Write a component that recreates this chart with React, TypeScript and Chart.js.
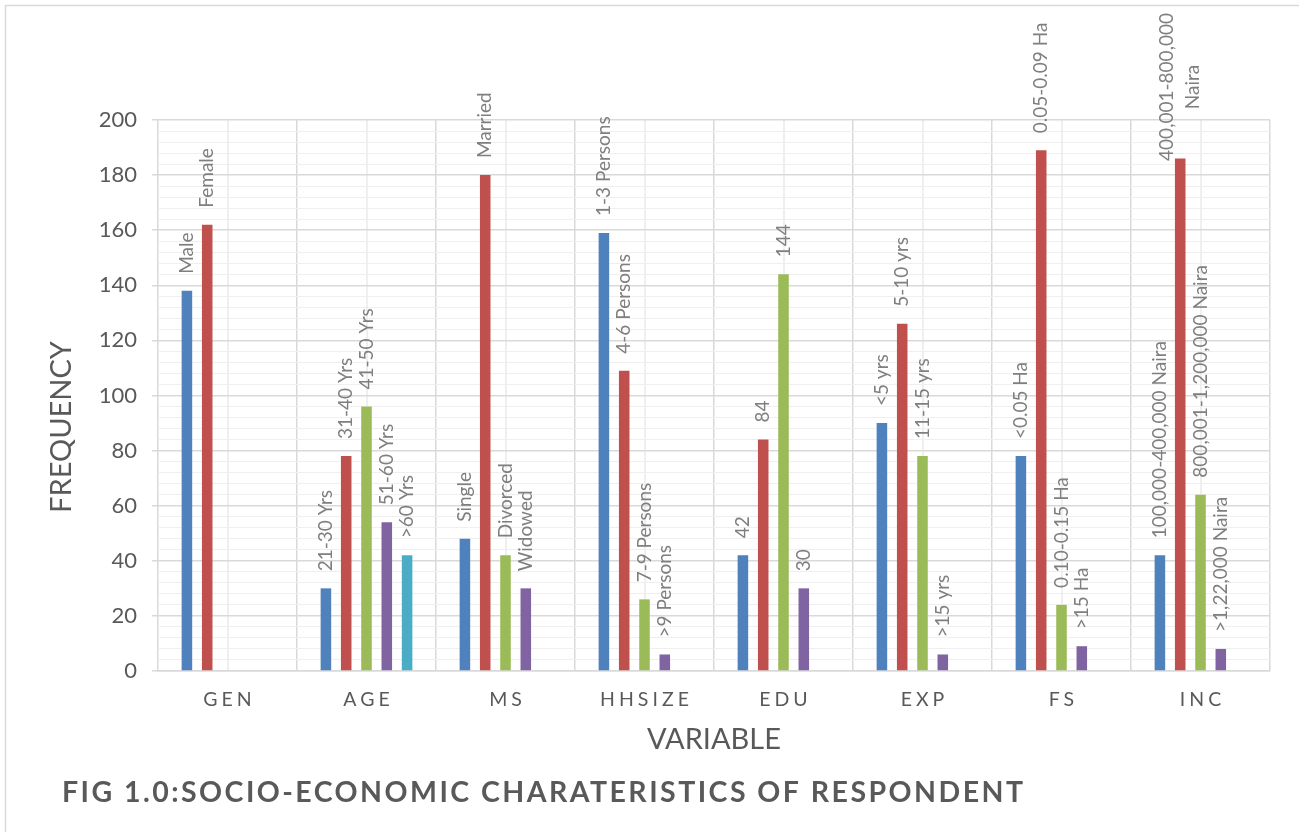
import React, { useEffect, useRef } from "react";
import { Chart, registerables } from "chart.js";

Chart.register(...registerables);

// ---------- data ----------
const categories = ["GEN", "AGE", "MS", "HHSIZE", "EDU", "EXP", "FS", "INC"];

const series1Values = [138, 30, 48, 159, 42, 90, 78, 42];
const series2Values = [162, 78, 180, 109, 84, 126, 189, 186];
const series3Values = [null, 96, 42, 26, 144, 78, 24, 64];
const series4Values = [null, 54, 30, 6, 30, 6, 9, 8];
const series5Values = [null, 42, null, null, null, null, null, null];

const series1Labels = ["Male", "21-30 Yrs", "Single", "1-3 Persons", "42", "<5 yrs", "<0.05 Ha", "100,000-400,000 Naira"];
const series2Labels = ["Female", "31-40 Yrs", "Married", "4-6 Persons", "84", "5-10 yrs", "0.05-0.09 Ha", ["400,001-800,000", "Naira"]];
const series3Labels = [null, "41-50 Yrs", "Divorced", "7-9 Persons", "144", "11-15 yrs", "0.10-0.15 Ha", "800,001-1,200,000 Naira"];
const series4Labels = [null, "51-60 Yrs", "Widowed", ">9 Persons", "30", ">15 yrs", ">15 Ha", ">1,22,000 Naira"];
const series5Labels = [null, ">60 Yrs", null, null, null, null, null, null];

const seriesColors = ["#4F81BD", "#C0504D", "#9BBB59", "#8064A2", "#4BACC6"];

const yMin = 0;
const yMax = 200;
const yMajorStep = 20;
const yMinorStep = 4;

const xAxisTitle = "VARIABLE";
const yAxisTitle = "FREQUENCY";
const figureTitle = "FIG 1.0:SOCIO-ECONOMIC CHARATERISTICS OF RESPONDENT";

const allValues = [series1Values, series2Values, series3Values, series4Values, series5Values];
const allLabels: any[][] = [series1Labels, series2Labels, series3Labels, series4Labels, series5Labels];

const FONT = "Lato, 'Open Sans', 'DejaVu Sans', sans-serif";

const decorPlugin = {
  id: "decor",
  beforeDraw(chart: any) {
    const ctx = chart.ctx;
    const { top, bottom } = chart.chartArea;
    ctx.save();
    ctx.fillStyle = "#ffffff";
    ctx.fillRect(0, 0, chart.width, chart.height);
    ctx.strokeStyle = "#d9d9d9";
    ctx.lineWidth = 1.5;
    ctx.strokeRect(5.5, 5.5, chart.width + 20, chart.height + 20);
    // minor vertical gridlines at category centres
    const xs = chart.scales.x;
    ctx.strokeStyle = "#efefef";
    ctx.lineWidth = 2;
    categories.forEach((_, i) => {
      const px = Math.round(xs.getPixelForValue(i));
      ctx.beginPath();
      ctx.moveTo(px, top);
      ctx.lineTo(px, bottom);
      ctx.stroke();
    });
    ctx.restore();
  },
  afterDatasetsDraw(chart: any) {
    const ctx = chart.ctx;
    ctx.save();
    ctx.fillStyle = "#7f7f7f";
    ctx.font = `19px ${FONT}`;
    chart.data.datasets.forEach((ds: any, di: number) => {
      const meta = chart.getDatasetMeta(di);
      meta.data.forEach((bar: any, j: number) => {
        const lab = allLabels[di][j];
        const v = ds.data[j];
        if (lab == null || v == null) return;
        const lines: string[] = Array.isArray(lab) ? lab : [lab];
        const w = Math.max(...lines.map((l) => ctx.measureText(l).width));
        let start = bar.y - 17;
        if (start - w < 13) start = 13 + w;
        ctx.save();
        ctx.translate(bar.x, start);
        ctx.rotate(-Math.PI / 2);
        ctx.textBaseline = "middle";
        lines.forEach((l, k) => {
          const off = (k - (lines.length - 1) / 2) * 26;
          if (lines.length > 1) {
            ctx.textAlign = "center";
            ctx.fillText(l, w / 2, off);
          } else {
            ctx.textAlign = "left";
            ctx.fillText(l, 0, off);
          }
        });
        ctx.restore();
      });
    });
    ctx.restore();
  },
  afterDraw(chart: any) {
    const ctx = chart.ctx;
    const { left, right } = chart.chartArea;
    const xs = chart.scales.x;
    ctx.save();
    // category labels with letter spacing
    ctx.fillStyle = "#595959";
    ctx.font = `19.5px ${FONT}`;
    ctx.textAlign = "center";
    ctx.textBaseline = "alphabetic";
    const sp = 4;
    (ctx as any).letterSpacing = `${sp}px`;
    categories.forEach((c, i) => {
      ctx.fillText(c, xs.getPixelForValue(i) + sp / 2, 706);
    });
    (ctx as any).letterSpacing = "0px";
    // axis titles
    ctx.font = `29px ${FONT}`;
    ctx.fillText(xAxisTitle, (left + right) / 2, 749);
    ctx.save();
    ctx.translate(71, 427);
    ctx.rotate(-Math.PI / 2);
    ctx.textAlign = "center";
    ctx.fillText(yAxisTitle, 0, 0);
    ctx.restore();
    // figure title
    ctx.font = `bold 28.5px ${FONT}`;
    ctx.textAlign = "left";
    const target = 961;
    const natural = ctx.measureText(figureTitle).width;
    const ls = Math.max(0, (target - natural) / (figureTitle.length - 1));
    (ctx as any).letterSpacing = `${ls}px`;
    ctx.fillText(figureTitle, 62, 802);
    (ctx as any).letterSpacing = "0px";
    ctx.restore();
  },
};

export default function App() {
  const ref = useRef<HTMLCanvasElement>(null);
  useEffect(() => {
    if (!ref.current) return;
    const chart = new Chart(ref.current, {
      type: "bar",
      data: {
        labels: categories,
        datasets: allValues.map((vals, i) => ({
          label: `Series ${i + 1}`,
          data: vals as any,
          backgroundColor: seriesColors[i],
          borderWidth: 0,
        })),
      },
      options: {
        responsive: false,
        animation: false,
        devicePixelRatio: 1,
        layout: { padding: { left: 0, top: 120, right: 29, bottom: 161 } },
        datasets: { bar: { categoryPercentage: 0.73, barPercentage: 0.52 } },
        plugins: {
          legend: { display: false },
          tooltip: { enabled: false },
          title: { display: false },
        },
        scales: {
          x: {
            offset: true,
            grid: { offset: true, color: "#d9d9d9", lineWidth: 1.5, drawTicks: false },
            border: { color: "#d9d9d9", width: 1.5 },
            ticks: { display: false },
            afterFit: (s: any) => {
              s.height = 0;
            },
          },
          y: {
            min: yMin,
            max: yMax,
            ticks: {
              stepSize: yMinorStep,
              autoSkip: false,
              padding: 15,
              color: "#595959",
              font: { family: FONT, size: 22 },
              callback: (v: any) => (Number(v) % yMajorStep === 0 ? String(v) : ""),
            },
            grid: {
              color: (c: any) => (c.tick && c.tick.value % yMajorStep === 0 ? "#d9d9d9" : "#efefef"),
              lineWidth: (c: any) => (c.tick && c.tick.value % yMajorStep === 0 ? 1.5 : 1),
              tickLength: 6,
              tickColor: (c: any) => (c.tick && c.tick.value % yMajorStep === 0 ? "#d9d9d9" : "rgba(0,0,0,0)"),
            },
            border: { display: false },
            afterFit: (s: any) => {
              s.width = 158;
            },
          },
        },
      },
      plugins: [decorPlugin],
    });
    return () => chart.destroy();
  }, []);
  return (
    <div style={{ position: "fixed", left: 0, top: 0, width: 1299, height: 832, overflow: "hidden", background: "#fff" }}>
      <canvas ref={ref} width={1299} height={832} style={{ display: "block", width: 1299, height: 832 }} />
    </div>
  );
}
